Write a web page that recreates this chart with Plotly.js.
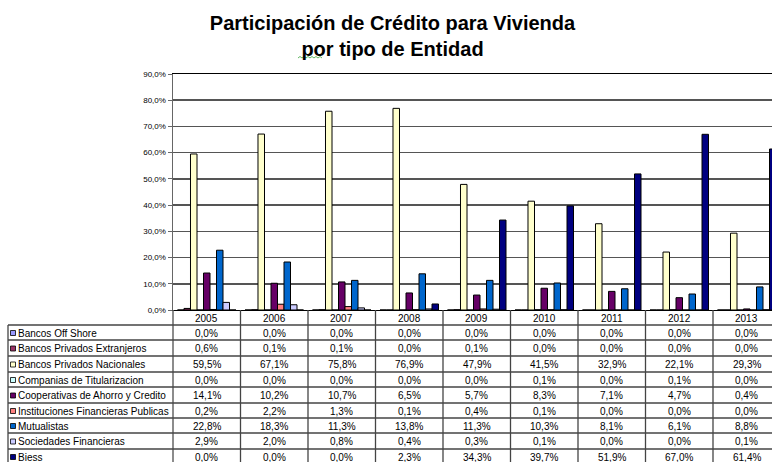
<!DOCTYPE html>
<html><head><meta charset="utf-8">
<script src="https://cdn.plot.ly/plotly-3.0.1.min.js"></script>
<style>html,body{margin:0;padding:0;overflow:hidden;background:#fff}</style>
</head><body><div id="chart" style="width:772px;height:462px"></div>
<script>
const years = ['2005','2006','2007','2008','2009','2010','2011','2012','2013'];
const entities = ['Bancos Off Shore','Bancos Privados Extranjeros','Bancos Privados Nacionales','Companias de Titularizacion','Cooperativas de Ahorro y Credito','Instituciones Financieras Publicas','Mutualistas','Sociedades Financieras','Biess'];
const offShore       = [0.0, 0.0, 0.0, 0.0, 0.0, 0.0, 0.0, 0.0, 0.0];
const extranjeros    = [0.6, 0.1, 0.1, 0.0, 0.1, 0.0, 0.0, 0.0, 0.0];
const nacionales     = [59.5, 67.1, 75.8, 76.9, 47.9, 41.5, 32.9, 22.1, 29.3];
const titularizacion = [0.0, 0.0, 0.0, 0.0, 0.0, 0.1, 0.0, 0.1, 0.0];
const cooperativas   = [14.1, 10.2, 10.7, 6.5, 5.7, 8.3, 7.1, 4.7, 0.4];
const publicas       = [0.2, 2.2, 1.3, 0.1, 0.4, 0.1, 0.0, 0.0, 0.0];
const mutualistas    = [22.8, 18.3, 11.3, 13.8, 11.3, 10.3, 8.1, 6.1, 8.8];
const sociedades     = [2.9, 2.0, 0.8, 0.4, 0.3, 0.1, 0.0, 0.0, 0.1];
const biess          = [0.0, 0.0, 0.0, 2.3, 34.3, 39.7, 51.9, 67.0, 61.4];
const series = [offShore, extranjeros, nacionales, titularizacion, cooperativas, publicas, mutualistas, sociedades, biess];
const colors = ['#9999FF','#993366','#FFFFCC','#CCFFFF','#660066','#FF8080','#0066CC','#CCCCFF','#000080'];

// geometry (pixels)
const W = 772, H = 462, L = 173, T = 74, B0 = 310;
const plotW = W - L, plotH = B0 - T;
const colW = 67.5;
const px2x = p => (p - L) / plotW;
const px2y = p => (B0 - p) / plotH;
const rowLines = [325, 340, 356, 372, 387, 403, 418, 433, 449, 464];
const tableLeft = 8;
const fmt = v => v.toFixed(1).replace('.', ',') + '%';
const FONT = '"Liberation Sans", Arial, sans-serif';
const tableFont = {family: FONT, size: 10, color: '#000'};

const traces = series.map((vals, i) => ({
  type: 'bar', name: entities[i], x: years, y: vals,
  marker: {color: colors[i], line: {color: '#000', width: 1}},
  hoverinfo: 'x+y+name'
}));

const shapes = [];
const annotations = [];
const lineStyle = {color: '#444', width: 1.3};
for (let k = 0; k <= 9; k++) {
  const x = px2x(L + k * colW);
  shapes.push({type: 'line', xref: 'paper', yref: 'paper', x0: x, x1: x, y0: px2y(B0), y1: px2y(H + 2),
    line: k === 0 ? {color: '#666', width: 1.5} : lineStyle});
}
shapes.push({type: 'line', xref: 'paper', yref: 'paper', x0: px2x(tableLeft), x1: px2x(tableLeft), y0: px2y(rowLines[0]), y1: px2y(H + 2), line: lineStyle});
rowLines.forEach(p => {
  shapes.push({type: 'line', xref: 'paper', yref: 'paper', x0: px2x(tableLeft), x1: 1, y0: px2y(p), y1: px2y(p), line: lineStyle});
});
years.forEach((yr, j) => {
  annotations.push({xref: 'x', yref: 'paper', x: j, y: px2y((B0 + rowLines[0]) / 2 + 0.5), text: yr,
    showarrow: false, xanchor: 'center', yanchor: 'middle', font: tableFont});
});
entities.forEach((name, i) => {
  const yc = (rowLines[i] + rowLines[i + 1]) / 2 + 0.5;
  shapes.push({type: 'rect', xref: 'paper', yref: 'paper', x0: px2x(10.5), x1: px2x(15.5), y0: px2y(yc - 2.5), y1: px2y(yc + 2.5),
    fillcolor: colors[i], line: {color: '#000', width: 0.8}});
  annotations.push({xref: 'paper', yref: 'paper', x: px2x(16), y: px2y(yc), text: name, showarrow: false,
    xanchor: 'left', yanchor: 'middle', font: tableFont});
  series[i].forEach((v, j) => {
    annotations.push({xref: 'x', yref: 'paper', x: j, y: px2y(yc), text: fmt(v), showarrow: false,
      xanchor: 'center', yanchor: 'middle', font: tableFont});
  });
});
// spell-check squiggle under "por"
let sq = '';
for (let p = 298, s = 0; p <= 323; p += 2, s++) {
  const yy = s % 2 ? 56.5 : 58;
  sq += (s === 0 ? 'M' : 'L') + px2x(p).toFixed(5) + ',' + px2y(yy).toFixed(5) + ' ';
}
shapes.push({type: 'path', xref: 'paper', yref: 'paper', path: sq, line: {color: '#3aa33a', width: 0.8}});

const layout = {
  width: W, height: H,
  margin: {l: L, r: 0, t: T, b: H - B0, pad: 0},
  paper_bgcolor: '#fff', plot_bgcolor: '#fff',
  separators: ',.',
  barmode: 'group', bargap: 0.133, bargroupgap: 0,
  showlegend: false,
  font: {family: FONT, size: 8, color: '#000'},
  title: {text: '<b>Participación de Crédito para Vivienda<br>por tipo de Entidad</b>',
    font: {size: 20, family: FONT, color: '#000'},
    x: 392.5 / W, xref: 'container', xanchor: 'center', y: 1 - 30 / H, yref: 'container', yanchor: 'top'},
  xaxis: {type: 'category', range: [-0.5, -0.5 + plotW / colW], showline: true, linecolor: '#000', linewidth: 1,
    mirror: true, showticklabels: false, ticks: '', showgrid: false, zeroline: false, fixedrange: true},
  yaxis: {range: [0, 90], tick0: 0, dtick: 10, tickformat: '.1f', ticksuffix: '%', showgrid: true,
    gridcolor: '#555', gridwidth: 1.5, showline: true, linecolor: '#666', linewidth: 1.5, ticks: 'outside',
    ticklen: 4, tickcolor: '#666', zeroline: false, tickfont: {size: 8, color: '#000'}, fixedrange: true},
  shapes: shapes, annotations: annotations
};
Plotly.newPlot('chart', traces, layout, {displayModeBar: false, staticPlot: true});
</script></body></html>
